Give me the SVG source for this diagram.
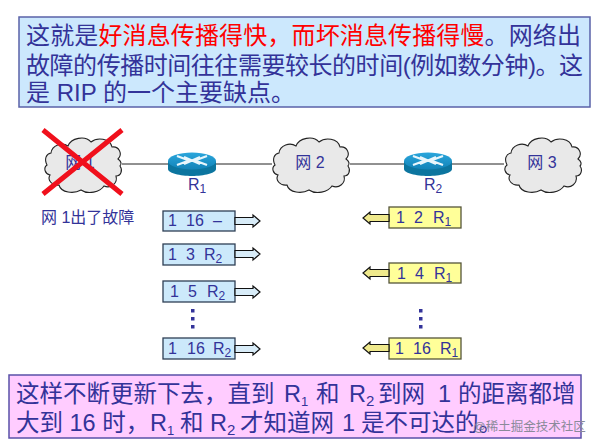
<svg xmlns="http://www.w3.org/2000/svg" width="592" height="447" viewBox="0 0 592 447">
<style>
text{font-family:"Liberation Sans","Noto Sans CJK SC",sans-serif;fill:#333399}
.big{font-size:24px}
.low{font-size:23.500px}
.red{fill:#ff0000}
.m{font-size:16px}
.sub{font-size:12px}
.lab{font-size:16px}
.labs{font-size:12px}
.net{font-size:16px;text-anchor:middle}
.bl{fill:#cce9fb;stroke:#2f3f55;stroke-width:1.3}
.yl{fill:#ffff99;stroke:#55553a;stroke-width:1.3}
.al{fill:#d8ecf8;stroke:#111;stroke-width:1.2}
.ay{fill:#efe98c;stroke:#111;stroke-width:1.2}
.cl{fill:#e9e9e9;stroke:#222;stroke-width:1.1}
.ln{stroke:#222;stroke-width:1;fill:none}
.dot{fill:#333399}
</style>
<defs>
<path id="cloud" class="cl" d="M-32,-12C-31,-20 -21,-23 -15,-19C-12,-27 2,-30 8,-23C14,-28 27,-27 29,-18C36,-19 40,-11 35,-6C38,-4 39,-1 37,1C40,5 38,11 33,11C35,18 28,24 21,21C17,27 5,30 -2,25C-9,29 -22,28 -24,20C-31,21 -36,15 -33,10C-38,9 -40,3 -36,0C-39,-6 -37,-11 -32,-12Z"/>
<linearGradient id="rt" x1="0" x2="0" y1="0" y2="1"><stop offset="0" stop-color="#2aa6dc"/><stop offset="1" stop-color="#1283b8"/></linearGradient>
<g id="router">
<path d="M-24,-3V5C-24,9 -12,12 0,12C12,12 24,9 24,5V-3Z" fill="#0c759f"/>
<ellipse cx="0" cy="-3" rx="24" ry="8.500" fill="url(#rt)"/>
<path d="M-15,-8L-3,-3.500L-15,1M15,-8L3,-3.500L15,1M-8,-7L8,0M8,-7L-8,0" stroke="#e8f6fc" stroke-width="2.200" fill="none"/>
</g>
<path id="ar" class="al" d="M0,-3.500H18V-6L25,0L18,6V3.500H0Z"/>
<path id="al" class="ay" d="M0,-3.500H-19V-6L-26,0L-19,6V3.500H0Z"/>
</defs>

<g id="top-note">
<rect x="19" y="17" width="571" height="90" fill="#cce8fd" stroke="#5a62a8" stroke-width="1.500"/>
<text class="big" x="26" y="44" textLength="555">这就是<tspan class="red">好消息传播得快，而坏消息传播得慢</tspan>。网络出</text>
<text class="big" x="26" y="74" textLength="557">故障的传播时间往往需要较长的时间(例如数分钟)。这</text>
<text class="big" x="26" y="101">是 RIP 的一个主要缺点。</text>
</g>

<g id="connectors">
<path class="ln" d="M122,164H168M216,164H272M350,164H404M452,164H504"/>
</g>

<g id="net1">
<use href="#cloud" x="83" y="165"/>
<text class="net" x="80" y="168">网 1</text>
<path d="M43,130L122,194M122,130L43,194" stroke="#f0101c" stroke-width="5" fill="none"/>
</g>
<g id="net2"><use href="#cloud" x="311" y="165"/><text class="net" x="310" y="168">网 2</text></g>
<g id="net3"><use href="#cloud" x="543" y="165"/><text class="net" x="542" y="168">网 3</text></g>
<g id="r1"><use href="#router" x="192" y="164"/><text class="lab" x="188" y="190">R<tspan class="labs" dy="3">1</tspan></text></g>
<g id="r2"><use href="#router" x="428" y="164"/><text class="lab" x="424" y="190">R<tspan class="labs" dy="3">2</tspan></text></g>
<g id="fault"><text x="41" y="223" font-size="16">网 1出了故障</text></g>

<g id="b1"><rect class="bl" x="163" y="211" width="72" height="20"/><use href="#ar" x="235" y="221"/><text class="m" x="168" y="226">1<tspan x="186">16</tspan><tspan x="213">–</tspan></text></g>
<g id="b2"><rect class="bl" x="163" y="244" width="72" height="21"/><use href="#ar" x="235" y="254"/><text class="m" x="168" y="260">1<tspan x="186">3</tspan><tspan x="204">R</tspan><tspan class="sub" dy="3">2</tspan></text></g>
<g id="b3"><rect class="bl" x="163" y="281" width="72" height="21"/><use href="#ar" x="235" y="292"/><text class="m" x="170" y="297">1<tspan x="188">5</tspan><tspan x="207">R</tspan><tspan class="sub" dy="3">2</tspan></text></g>
<g id="b4"><rect class="bl" x="163" y="338" width="72" height="21"/><use href="#ar" x="235" y="349"/><text class="m" x="168" y="354">1<tspan x="187">16</tspan><tspan x="213">R</tspan><tspan class="sub" dy="3">2</tspan></text></g>
<g id="dots1"><rect class="dot" x="191" y="309" width="3.500" height="3.500"/><rect class="dot" x="191" y="317" width="3.500" height="3.500"/><rect class="dot" x="191" y="325" width="3.500" height="3.500"/></g>

<g id="c1"><rect class="yl" x="389" y="207" width="72" height="21"/><use href="#al" x="389" y="218"/><text class="m" x="396" y="223">1<tspan x="414">2</tspan><tspan x="433">R</tspan><tspan class="sub" dy="3">1</tspan></text></g>
<g id="c2"><rect class="yl" x="389" y="263" width="72" height="20"/><use href="#al" x="389" y="273"/><text class="m" x="397" y="279">1<tspan x="415">4</tspan><tspan x="434">R</tspan><tspan class="sub" dy="3">1</tspan></text></g>
<g id="c3"><rect class="yl" x="389" y="338" width="72" height="21"/><use href="#al" x="389" y="348"/><text class="m" x="395" y="354">1<tspan x="413">16</tspan><tspan x="440">R</tspan><tspan class="sub" dy="3">1</tspan></text></g>
<g id="dots2"><rect class="dot" x="419" y="309" width="3.500" height="3.500"/><rect class="dot" x="419" y="317" width="3.500" height="3.500"/><rect class="dot" x="419" y="325" width="3.500" height="3.500"/></g>

<g id="bottom-note">
<rect x="9" y="375" width="572" height="63" fill="#ffccff" stroke="#5a50a8" stroke-width="1.500"/>
<text class="low" x="16" y="402">这样不断更新下去，直到<tspan x="284">R</tspan><tspan font-size="13" dy="4">1</tspan><tspan x="316" dy="-4">和</tspan><tspan x="349">R</tspan><tspan font-size="15" dy="4">2</tspan><tspan x="378" dy="-4">到网</tspan><tspan x="438">1</tspan><tspan x="458">的距离都增</tspan></text>
<text class="low" x="16" y="431">大到 16 时，<tspan x="150">R</tspan><tspan font-size="13" dy="4">1</tspan><tspan x="180" dy="-4">和</tspan><tspan x="210">R</tspan><tspan font-size="15" dy="4">2</tspan><tspan x="240" dy="-4">才知道网</tspan><tspan x="342">1</tspan><tspan x="361">是不可达的。</tspan></text>
</g>
<g id="watermark"><text x="473" y="431" font-size="12.500" style="fill:#8a8a9a">@稀土掘金技术社区</text></g>
</svg>
